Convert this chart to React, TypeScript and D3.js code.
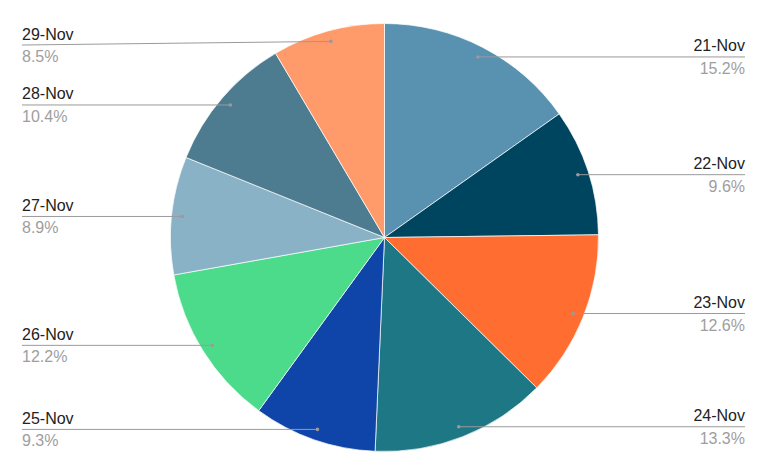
import React from "react";
import * as d3 from "d3";

const categories = ["21-Nov", "22-Nov", "23-Nov", "24-Nov", "25-Nov", "26-Nov", "27-Nov", "28-Nov", "29-Nov"];
const values = [15.2, 9.6, 12.6, 13.3, 9.3, 12.2, 8.9, 10.4, 8.5];
const colors = ["#5991b0", "#00455f", "#ff6d31", "#1e7785", "#0f45a8", "#4cdb8a", "#8ab2c7", "#4d7c90", "#ff9a6b"];

const W = 769;
const H = 476;
const CX = 384.5;
const CY = 237.5;
const R = 214;
const LEFT_X = 22;
const RIGHT_X = 745;
const FONT = "Arial, 'Liberation Sans', sans-serif";

export default function App() {
  const pie = d3.pie<number>().sort(null).value((d) => d);
  const arcs = pie(values);
  const arcGen = d3.arc<d3.PieArcDatum<number>>().innerRadius(0).outerRadius(R);
  const total = d3.sum(values);
  const fmt = (v: number) => ((v / total) * 100).toFixed(1) + "%";

  return (
    <svg width={W} height={H} style={{ position: "absolute", left: 0, top: 0, background: "#fff" }}>
      <g transform={`translate(${CX},${CY})`}>
        {arcs.map((a, i) => (
          <path key={i} d={arcGen(a) || ""} fill={colors[i]} stroke="#fff" strokeWidth={0.7} />
        ))}
      </g>
      {arcs.map((a, i) => {
        const mid = (a.startAngle + a.endAngle) / 2;
        const dr = R * 0.95;
        const dx = CX + dr * Math.sin(mid);
        const dy = CY - dr * Math.cos(mid);
        const right = Math.sin(mid) >= 0;
        const ly = Math.max(dy, 45);
        const lx = right ? RIGHT_X : LEFT_X;
        return (
          <g key={"l" + i}>
            <line x1={dx} y1={dy} x2={lx} y2={ly} stroke="#9a9a9a" strokeWidth={1} />
            <circle cx={dx} cy={dy} r={1.8} fill="#9a9a9a" />
            <text
              x={lx}
              y={ly - 5.5}
              textAnchor={right ? "end" : "start"}
              fontFamily={FONT}
              fontSize={16}
              fill="#222"
            >
              {categories[i]}
            </text>
            <text
              x={lx}
              y={ly + 17}
              textAnchor={right ? "end" : "start"}
              fontFamily={FONT}
              fontSize={16}
              fill="#9e9e9e"
            >
              {fmt(values[i])}
            </text>
          </g>
        );
      })}
    </svg>
  );
}
